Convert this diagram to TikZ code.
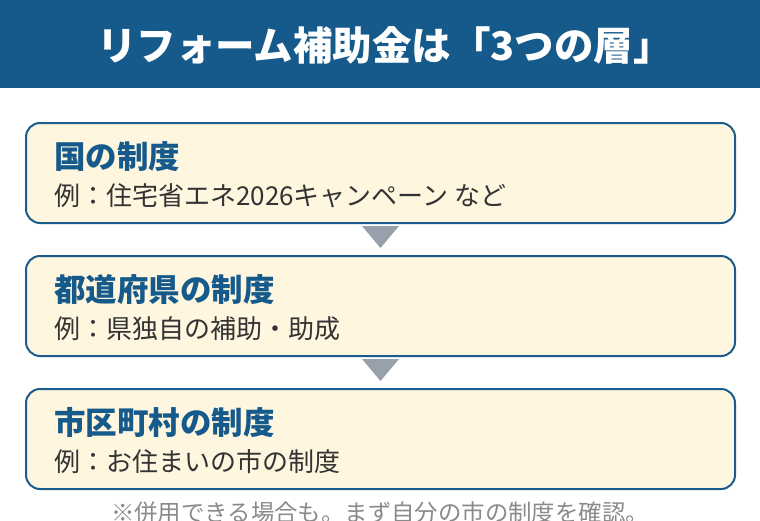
\documentclass[tikz,border=0pt]{standalone}
\usepackage{fontspec}
\setmainfont{Noto Sans CJK JP}
\usetikzlibrary{positioning}

\definecolor{barblue}{HTML}{155A8B}
\definecolor{lineblue}{HTML}{1B5C8C}
\definecolor{cream}{HTML}{FFF6DF}
\definecolor{markgray}{HTML}{98A1AB}
\definecolor{textgray}{HTML}{333333}
\definecolor{notegray}{HTML}{8A8A8A}

\begin{document}
\begin{tikzpicture}[x=1pt, y=1pt, node distance=31pt,
    layer/.style={draw=lineblue, line width=2pt, fill=cream, rounded corners=14pt,
                  minimum width=709pt, minimum height=100pt},
    heading/.style={anchor=base west, inner sep=0pt, text=barblue,
                    font=\fontsize{31.5}{31.5}\selectfont\bfseries},
    example/.style={anchor=base west, inner sep=0pt, text=textgray,
                    font=\fontsize{26}{26}\selectfont},
    marker/.style={fill=markgray}]
    \useasboundingbox (0,0) rectangle (760,-520);

    % title bar
    \fill[barblue] (0,0) rectangle (760,-88);
    \node[text=white, font=\fontsize{39.5}{39.5}\selectfont\bfseries] (title) at (385,-45) {リフォーム補助金は「3つの層」};

    % the three layers
    \node[layer] (kuni) at (380.5,-173) {};
    \node[layer, below=of kuni] (ken) {};
    \node[layer, below=of ken] (shi) {};

    \node[heading] (kuniHead) at ([shift={(29,-46)}]kuni.north west) {国の制度};
    \node[example] (kuniText) at ([shift={(29,-83)}]kuni.north west) {例：住宅省エネ2026キャンペーン など};
    \node[heading] (kenHead) at ([shift={(29,-46)}]ken.north west) {都道府県の制度};
    \node[example] (kenText) at ([shift={(29,-83)}]ken.north west) {例：県独自の補助・助成};
    \node[heading] (shiHead) at ([shift={(29,-46)}]shi.north west) {市区町村の制度};
    \node[example] (shiText) at ([shift={(29,-83)}]shi.north west) {例：お住まいの市の制度};

    % down markers
    \fill[marker] ([shift={(-18.5,-2)}]kuni.south) -- ++(37,0) -- ++(-18.5,-22) -- cycle;
    \fill[marker] ([shift={(-18.5,-2)}]ken.south) -- ++(37,0) -- ++(-18.5,-22) -- cycle;

    \node[anchor=base, inner sep=0pt, text=notegray, font=\fontsize{23.4}{23.4}\selectfont] (note) at (380,-521) {※併用できる場合も。まず自分の市の制度を確認。};
\end{tikzpicture}
\end{document}
